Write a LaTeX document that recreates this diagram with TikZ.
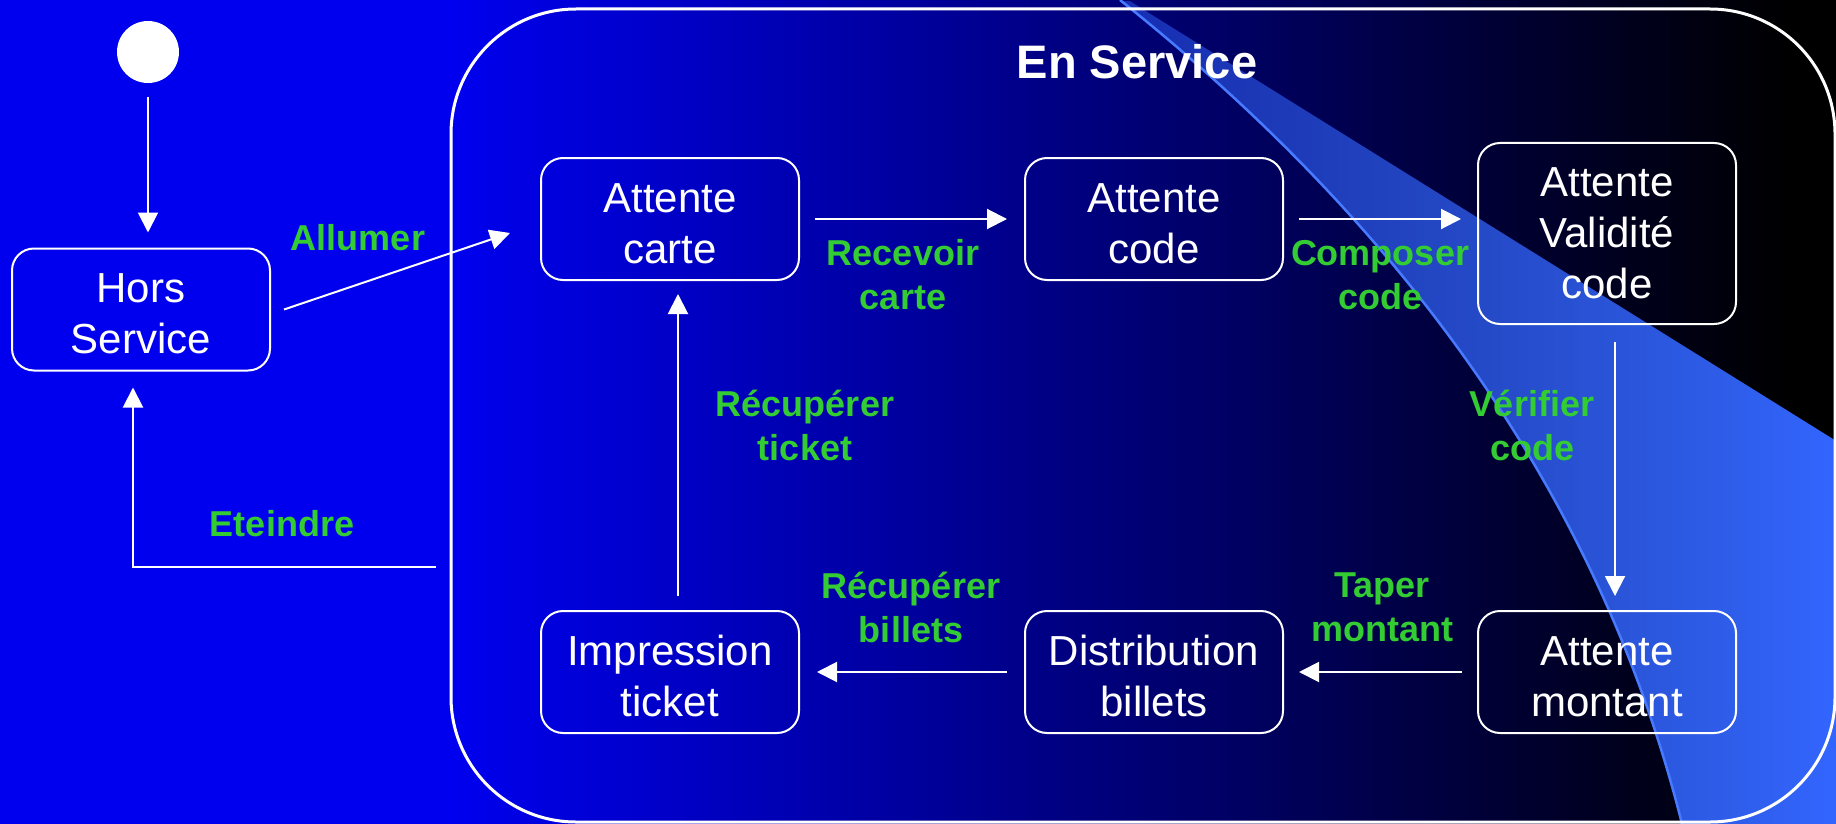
\documentclass[tikz,border=0pt]{standalone}
\usepackage{fontspec}
\setmainfont{Liberation Sans}
\usetikzlibrary{arrows.meta,fadings}
\definecolor{bgblue}{RGB}{0,0,238}
\definecolor{wedgecol}{RGB}{51,102,255}
\definecolor{wedgeline}{RGB}{72,122,255}
\definecolor{lblgreen}{RGB}{51,204,51}
\tikzfading[name=wedgefade, left color=transparent!55, middle color=transparent!0, right color=transparent!0]
\newcommand\dnstrut{\rule{0pt}{38pt}}
\begin{document}
\begin{tikzpicture}[x=1pt,y=-1pt,
  state/.style={draw=white, line width=2pt, rounded corners=22pt, minimum width=258pt,
    minimum height=122pt, inner sep=0pt, text=white, align=center,
    font=\fontsize{42}{51}\selectfont},
  lbl/.style={text=lblgreen, align=center, inner sep=0pt,
    font=\fontsize{36}{44}\selectfont\bfseries},
  arr/.style={draw=white, line width=2pt, -{Triangle[length=20pt,width=20pt]}},
]
\useasboundingbox (0,0) rectangle (1836,824);
% background
\fill[bgblue] (0,0) rectangle (456,824);
\shade[left color=bgblue, right color=black] (455,0) rectangle (1790,824);
\fill[black] (1789,0) rectangle (1836,824);
% light wedge
\fill[wedgecol, path fading=wedgefade] (1120,0) .. controls (1417,237) and (1604,512) .. (1682,824)
  -- (1836,824) -- (1836,440) -- (1130,0) -- cycle;
\draw[wedgeline, line width=2.5pt] (1120,0) .. controls (1417,237) and (1604,512) .. (1682,824);

% composite state
\node[draw=white, line width=3pt, rounded corners=125pt, minimum width=1384pt,
  minimum height=813pt, inner sep=0pt] (ens) at (1143,415.5) {};
\node[text=white, inner sep=0pt, font=\fontsize{47}{56}\selectfont\bfseries] (enslbl) at (1137,61.5) {En Service};

% initial state
\node[circle, fill=white, minimum size=62pt, inner sep=0pt] (init) at (148,52) {};

% states
\node[state] (hors) at (141,309.5) {\dnstrut Hors\\Service};
\node[state] (carte) at (670,219) {\dnstrut Attente\\carte};
\node[state] (code) at (1154,219) {\dnstrut Attente\\code};
\node[state, minimum height=181pt] (valid) at (1607,233.5) {Attente\\Validité\\code};
\node[state] (montant) at (1607,672) {\dnstrut Attente\\montant};
\node[state] (distrib) at (1154,672) {\dnstrut Distribution\\billets};
\node[state] (impr) at (670,672) {\dnstrut Impression\\ticket};

% transitions
\draw[arr, shorten <=14pt, shorten >=15pt] (init.south) -- (init.south |- hors.north);
\draw[arr] ([xshift=13pt]hors.east) -- ([xshift=-30pt,yshift=-14pt]carte.west);
\draw[arr, shorten <=15pt, shorten >=17pt] (carte.east) -- (code.west);
\draw[arr, shorten <=15pt, shorten >=16pt] (code.east) -- (valid.west |- code.east);
\draw[arr, shorten <=17pt, shorten >=14pt] ([xshift=8pt]valid.south) -- ([xshift=8pt]montant.north);
\draw[arr, shorten <=15pt, shorten >=15pt] (montant.west) -- (distrib.east);
\draw[arr, shorten <=17pt, shorten >=17pt] (distrib.west) -- (impr.east);
\draw[arr, shorten <=14pt, shorten >=13pt] ([xshift=8pt]impr.north) -- ([xshift=8pt]carte.south);
\coordinate (e0) at (436,567);
\draw[arr, shorten >=16pt] (e0) -| ([xshift=-8pt]hors.south);

% labels
\node[lbl] (lAllumer) at (358,238) {Allumer};
\node[lbl] (lRecevoir) at (903,275) {Recevoir\\carte};
\node[lbl] (lComposer) at (1380,275) {Composer\\code};
\node[lbl] (lVerifier) at (1532,425) {Vérifier\\code};
\node[lbl] (lTicket) at (805,425) {Récupérer\\ticket};
\node[lbl] (lBillets) at (911,607) {Récupérer\\billets};
\node[lbl] (lTaper) at (1382,607) {Taper\\montant};
\node[lbl] (lEteindre) at (282,524) {Eteindre};
\end{tikzpicture}
\end{document}
